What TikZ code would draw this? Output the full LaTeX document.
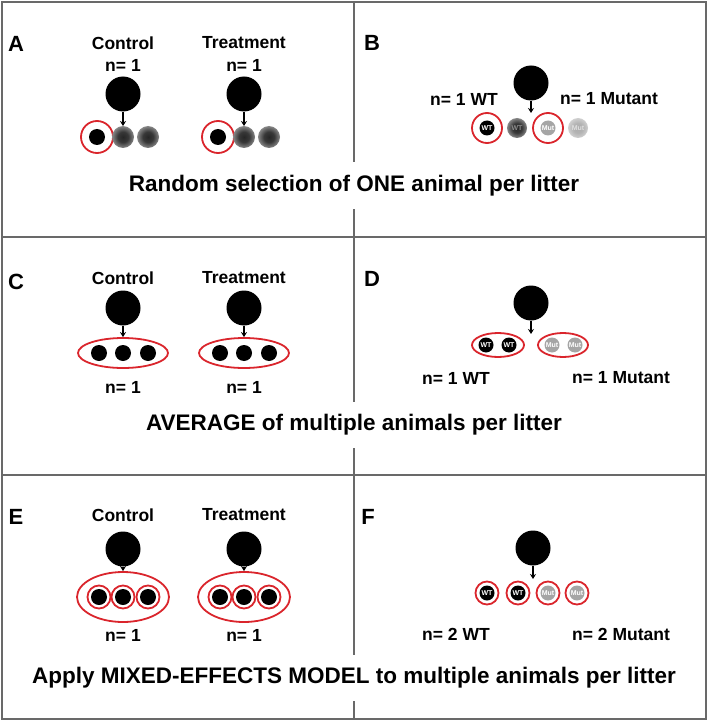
\documentclass[tikz,border=0pt]{standalone}
\usepackage{fontspec}
\setmainfont{Liberation Sans}
\usetikzlibrary{arrows.meta,shapes.geometric}
\definecolor{selred}{RGB}{218,37,44}
\definecolor{mutgray}{RGB}{165,165,165}
\definecolor{framegray}{RGB}{105,105,105}
\pgfdeclareradialshading{blurdark}{\pgfpoint{0bp}{0bp}}{color(0bp)=(black!85); color(12bp)=(black!78); color(28bp)=(black!40); color(50bp)=(white)}
\pgfdeclareradialshading{blurlight}{\pgfpoint{0bp}{0bp}}{color(0bp)=(black!32); color(12bp)=(black!30); color(28bp)=(black!16); color(50bp)=(white)}

\begin{document}
\begin{tikzpicture}[
    x=1pt, y=-1pt,
    frame/.style={draw=framegray, line width=1.4pt},
    panel/.style={font=\fontsize{22}{24}\selectfont\bfseries},
    label/.style={font=\fontsize{17.5}{20}\selectfont\bfseries, inner sep=1pt},
    caption/.style={font=\fontsize{22.5}{26}\selectfont\bfseries, fill=white, minimum height=46pt, inner sep=2pt},
    litter/.style={circle, fill=black, minimum size=35pt, inner sep=0pt},
    pup/.style={circle, fill=black, minimum size=16pt, inner sep=0pt},
    blur/.style={circle, shade, shading=blurdark, minimum size=22pt, inner sep=0pt, font=\fontsize{7}{7}\selectfont\bfseries},
    wt/.style={circle, fill=black, minimum size=15pt, inner sep=0pt, text=white, font=\fontsize{7}{7}\selectfont\bfseries},
    mut/.style={wt, fill=mutgray},
    pick/.style={circle, draw=selred, line width=1.8pt, minimum size=32pt, inner sep=0pt},
    ring/.style={circle, draw=selred, line width=1.8pt, minimum size=23pt, inner sep=0pt},
    pool/.style={ellipse, draw=selred, line width=1.8pt, inner sep=0pt},
    arrow/.style={-{Stealth[length=5pt, width=6pt]}, line width=1.3pt}
]
\useasboundingbox (0,0) rectangle (709,722);

% frame and dividers
\draw[frame] (2,2) rectangle (706,719);
\draw[frame] (2,237) -- (706,237);
\draw[frame] (2,475) -- (706,475);
\draw[frame] (354,2) -- (354,719);

% A: one pup picked per litter
\node[panel] (lblA) at (16,44) {A};
\foreach \x/\grp/\id in {123/Control/ctl, 244/Treatment/trt} {
  \node[label] (\id A) at (\x,43) {\grp};
  \node[label] (n\id A) at (\x,65) {n= 1};
  \node[litter] (lit\id A) at (\x,94) {};
  \coordinate (tip\id A) at (\x,126);
  \node[pick] (pick\id A) at (\x-26,137) {};
  \node[pup] (pup\id A) at (\x-26,137) {};
  \node[blur] (b\id A1) at (\x,137) {};
  \node[blur] (b\id A2) at (\x+25,137) {};
  \draw[arrow] (lit\id A) -- (tip\id A);
}

% B: one WT and one mutant
\node[panel] (lblB) at (372,43) {B};
\node[litter] (litB) at (531,83) {};
\coordinate (tipB) at (531,113);
\node[label] (nwtB) at (464,99) {n= 1 WT};
\node[label] (nmutB) at (609,99) {n= 1 Mutant};
\node[pick, minimum size=30pt] (pickwtB) at (487,128) {};
\node[wt] (wtB) at (487,128) {WT};
\node[blur, minimum size=20pt, text=black!45] (bwtB) at (517,128) {WT};
\node[pick, minimum size=30pt] (pickmutB) at (548,128) {};
\node[mut] (mutB) at (548,128) {Mut};
\node[blur, shading=blurlight, minimum size=20pt, text=black!12] (bmutB) at (578,128) {Mut};
\draw[arrow] (litB) -- (tipB);

% C: litter average
\node[panel] (lblC) at (16,282) {C};
\foreach \x/\grp/\id in {123/Control/ctl, 244/Treatment/trt} {
  \node[label] (\id C) at (\x,278) {\grp};
  \node[litter] (lit\id C) at (\x,308) {};
  \node[pool, minimum width=90pt, minimum height=30pt] (pool\id C) at (\x,353) {};
  \foreach \dx [count=\k] in {-24,0,25}
    \node[pup] (pup\id C\k) at (\x+\dx,353) {};
  \node[label] (n\id C) at (\x,387) {n= 1};
  \draw[arrow] (lit\id C) -- (pool\id C);
}

% D: WT and mutant averages
\node[panel] (lblD) at (372,279) {D};
\node[litter] (litD) at (531,303) {};
\coordinate (tipD) at (531,334);
\node[pool, minimum width=52pt, minimum height=24pt] (poolwtD) at (498,345) {};
\node[pool, minimum width=50pt, minimum height=24pt] (poolmutD) at (563,345) {};
\node[wt] (wtD1) at (486,345) {WT};
\node[wt] (wtD2) at (509,345) {WT};
\node[mut] (mutD1) at (552,345) {Mut};
\node[mut] (mutD2) at (575,345) {Mut};
\node[label] (nwtD) at (456,378) {n= 1 WT};
\node[label] (nmutD) at (621,378) {n= 1 Mutant};
\draw[arrow] (litD) -- (tipD);

% E: nested pups in litter
\node[panel] (lblE) at (16,517) {E};
\foreach \x/\grp/\id in {123/Control/ctl, 244/Treatment/trt} {
  \node[label] (\id E) at (\x,515) {\grp};
  \node[litter] (lit\id E) at (\x,549) {};
  \node[pool, minimum width=92pt, minimum height=50pt] (pool\id E) at (\x,597) {};
  \foreach \dx [count=\k] in {-24,0,25} {
    \node[ring] (ring\id E\k) at (\x+\dx,597) {};
    \node[pup] (pup\id E\k) at (\x+\dx,597) {};
  }
  \node[label] (n\id E) at (\x,635) {n= 1};
  \draw[arrow] (lit\id E) -- (pool\id E);
}

% F: every pup counted
\node[panel] (lblF) at (368,517) {F};
\node[litter] (litF) at (533,548) {};
\coordinate (tipF) at (533,579);
\foreach \x/\kind/\txt [count=\k] in {487/wt/WT, 518/wt/WT, 548/mut/Mut, 577/mut/Mut} {
  \node[ring] (ringF\k) at (\x,593) {};
  \node[\kind] (pupF\k) at (\x,593) {\txt};
}
\node[label] (nwtF) at (456,634) {n= 2 WT};
\node[label] (nmutF) at (621,634) {n= 2 Mutant};
\draw[arrow] (litF) -- (tipF);

% captions over the middle divider
\node[caption] (capA) at (354,185.5) {Random selection of ONE animal per litter};
\node[caption] (capC) at (354,424.5) {AVERAGE of multiple animals per litter};
\node[caption] (capE) at (354,677.5) {Apply MIXED-EFFECTS MODEL to multiple animals per litter};

\end{tikzpicture}
\end{document}
